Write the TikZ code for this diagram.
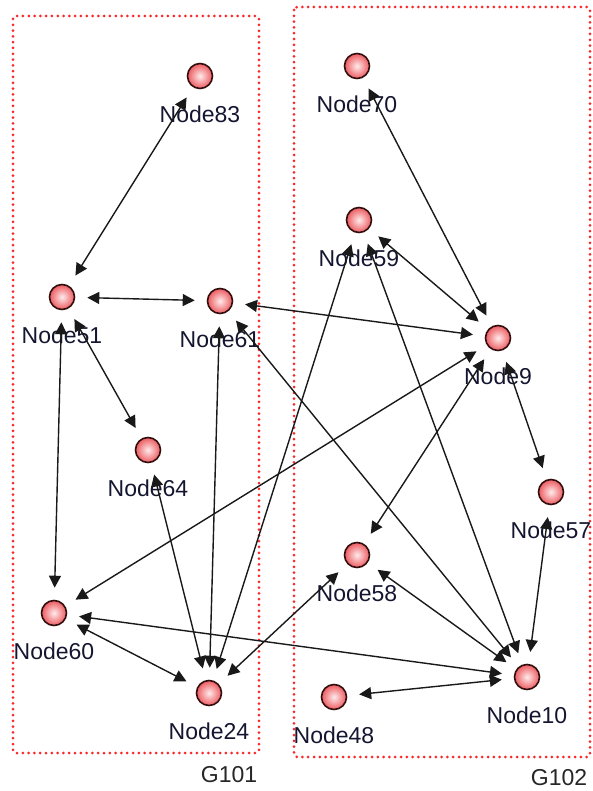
\documentclass[tikz,border=0pt]{standalone}
\usepackage{fontspec}
\setmainfont{Liberation Sans}
\usetikzlibrary{arrows.meta}

\definecolor{grpred}{RGB}{250,40,40}
\definecolor{balledge}{RGB}{50,15,15}
\definecolor{ballin}{RGB}{255,235,235}
\definecolor{ballout}{RGB}{236,90,96}
\definecolor{labtext}{RGB}{20,22,48}
\definecolor{linkcol}{RGB}{25,25,25}

\tikzset{
  ball/.style={circle, minimum size=25pt, inner sep=0pt, draw=balledge,
    line width=1.6pt, inner color=ballin, outer color=ballout,
    label={[label distance=16pt, inner sep=0pt, text=labtext,
      font=\fontsize{23}{26}\selectfont]below:#1}},
  link/.style={draw=linkcol, line width=1.4pt,
    {Triangle[length=12pt,width=12pt]}-{Triangle[length=12pt,width=12pt]},
    shorten <=12pt, shorten >=12pt},
  groupbox/.style={draw=grpred, line width=3pt, line cap=round,
    dash pattern=on 0pt off 5.8pt, rounded corners=3pt},
  grouplabel/.style={inner sep=0pt, text=black!85,
    font=\fontsize{23}{26}\selectfont}
}

\begin{document}
\begin{tikzpicture}[x=1pt, y=-1pt]
  \useasboundingbox (0,0) rectangle (593,791);

  % group frames and their captions
  \draw[groupbox] (13,16) rectangle (259,753);
  \draw[groupbox] (294,7) rectangle (590,757);
  \node[grouplabel] (g101) at (229,775) {G101};
  \node[grouplabel] (g102) at (559,778) {G102};

  % nodes of G101
  \node[ball=Node83] (n83) at (200,76) {};
  \node[ball=Node51] (n51) at (62,297) {};
  \node[ball=Node61] (n61) at (220,301) {};
  \node[ball=Node64] (n64) at (148,450) {};
  \node[ball=Node60] (n60) at (54,613) {};
  \node[ball=Node24] (n24) at (209,693) {};

  % nodes of G102
  \node[ball=Node70] (n70) at (357,66) {};
  \node[ball=Node59] (n59) at (359,220) {};
  \node[ball=Node9]  (n9)  at (498,338) {};
  \node[ball=Node57] (n57) at (551,492) {};
  \node[ball=Node58] (n58) at (357,555) {};
  \node[ball=Node10] (n10) at (527,677) {};
  \node[ball=Node48] (n48) at (334,697) {};

  % links
  \draw[link] (n83) -- (n51);
  \draw[link] (n51) -- (n61);
  \draw[link] (n51) -- (n64);
  \draw[link] (n51) -- (n60);
  \draw[link] (n61) -- (n9);
  \draw[link] (n61) -- (n24);
  \draw[link] (n61) -- (n10);
  \draw[link] (n70) -- (n9);
  \draw[link] (n59) -- (n9);
  \draw[link] (n59) -- (n24);
  \draw[link] (n59) -- (n10);
  \draw[link] (n9) -- (n60);
  \draw[link] (n9) -- (n58);
  \draw[link] (n9) -- (n57);
  \draw[link] (n57) -- (n10);
  \draw[link] (n58) -- (n10);
  \draw[link] (n58) -- (n24);
  \draw[link] (n60) -- (n10);
  \draw[link] (n60) -- (n24);
  \draw[link] (n64) -- (n24);
  \draw[link] (n48) -- (n10);
\end{tikzpicture}
\end{document}
